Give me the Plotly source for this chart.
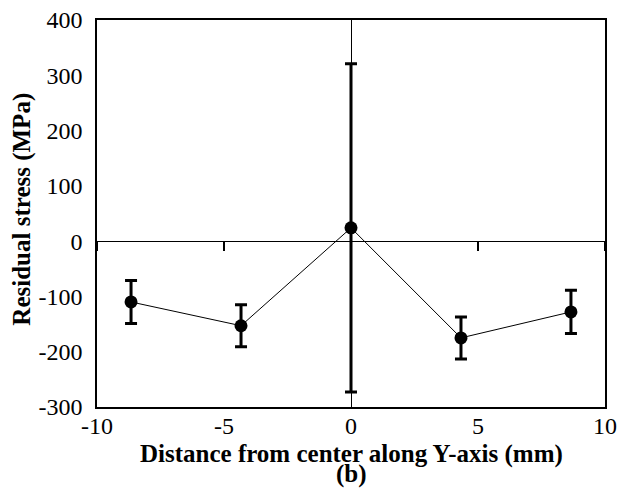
import plotly.graph_objects as go

x_mm = [-8.66, -4.33, 0.0, 4.33, 8.66]
stress = [-110, -153, 24, -175, -128]
err = [39, 38, 297, 38, 39]
x_ticks = [-10, -5, 0, 5, 10]
x_ticktext = ["-10", "-5", "0", "5", "10"]
y_ticks = [-300, -200, -100, 0, 100, 200, 300, 400]
y_ticktext = ["-300", "-200", "-100", "0", "100", "200", "300", "400"]

FONT = "Liberation Serif, Times New Roman, serif"

fig = go.Figure()
fig.add_trace(go.Scatter(
    x=x_mm, y=stress, mode="lines+markers",
    line=dict(color="black", width=1),
    marker=dict(color="black", size=13),
    error_y=dict(type="data", array=err, visible=True, color="black",
                 thickness=3, width=6),
    showlegend=False,
))
# invisible trace for overlay axis with ticks on the zero line
fig.add_trace(go.Scatter(x=x_ticks, y=[0]*len(x_ticks), xaxis="x2",
                         mode="none", showlegend=False, hoverinfo="skip"))

fig.update_layout(
    width=620, height=492,
    margin=dict(l=97, r=15, t=20, b=85),
    paper_bgcolor="white", plot_bgcolor="white",
    font=dict(family=FONT, color="black", size=24),
    xaxis=dict(range=[-10, 10], tickvals=x_ticks, ticktext=x_ticktext,
               showgrid=False, automargin=False,
               showline=True, mirror=True, linecolor="black", linewidth=1.5,
               ticks="", zeroline=True, zerolinecolor="black", zerolinewidth=1,
               ticklabelstandoff=-4,
               tickfont=dict(size=24, family=FONT)),
    xaxis2=dict(range=[-10, 10], tickvals=x_ticks, overlaying="x",
                anchor="free", position=300/700, side="bottom",
                showline=False, showgrid=False, zeroline=False,
                ticks="outside", ticklen=9, tickwidth=1.5, tickcolor="black",
                showticklabels=False),
    yaxis=dict(range=[-300, 400], tickvals=y_ticks, ticktext=y_ticktext,
               showgrid=False, automargin=False,
               showline=True, mirror=True, linecolor="black", linewidth=1.5,
               ticks="", zeroline=True, zerolinecolor="black", zerolinewidth=1,
               ticklabelstandoff=8,
               tickfont=dict(size=24, family=FONT)),
    annotations=[
        dict(text="<b>Distance from center along Y-axis (mm)</b>",
             xref="paper", yref="paper", x=0.5, y=0, yshift=-47,
             showarrow=False, xanchor="center", yanchor="middle",
             borderpad=0, font=dict(size=25, family=FONT)),
        dict(text="<b>(b)</b>", xref="paper", yref="paper",
             x=0.5, y=0, yshift=-67, showarrow=False,
             xanchor="center", yanchor="middle",
             borderpad=0, font=dict(size=25, family=FONT)),
        dict(text="<b>Residual stress (MPa)</b>", textangle=-90,
             xref="paper", yref="paper", x=0, y=0.51, xshift=-75,
             showarrow=False, xanchor="center", yanchor="middle",
             font=dict(size=25, family=FONT)),
    ],
)

fig.write_html("out.html", config={"displayModeBar": False},
               post_script="document.body.style.margin='0';document.body.style.overflow='hidden';")
